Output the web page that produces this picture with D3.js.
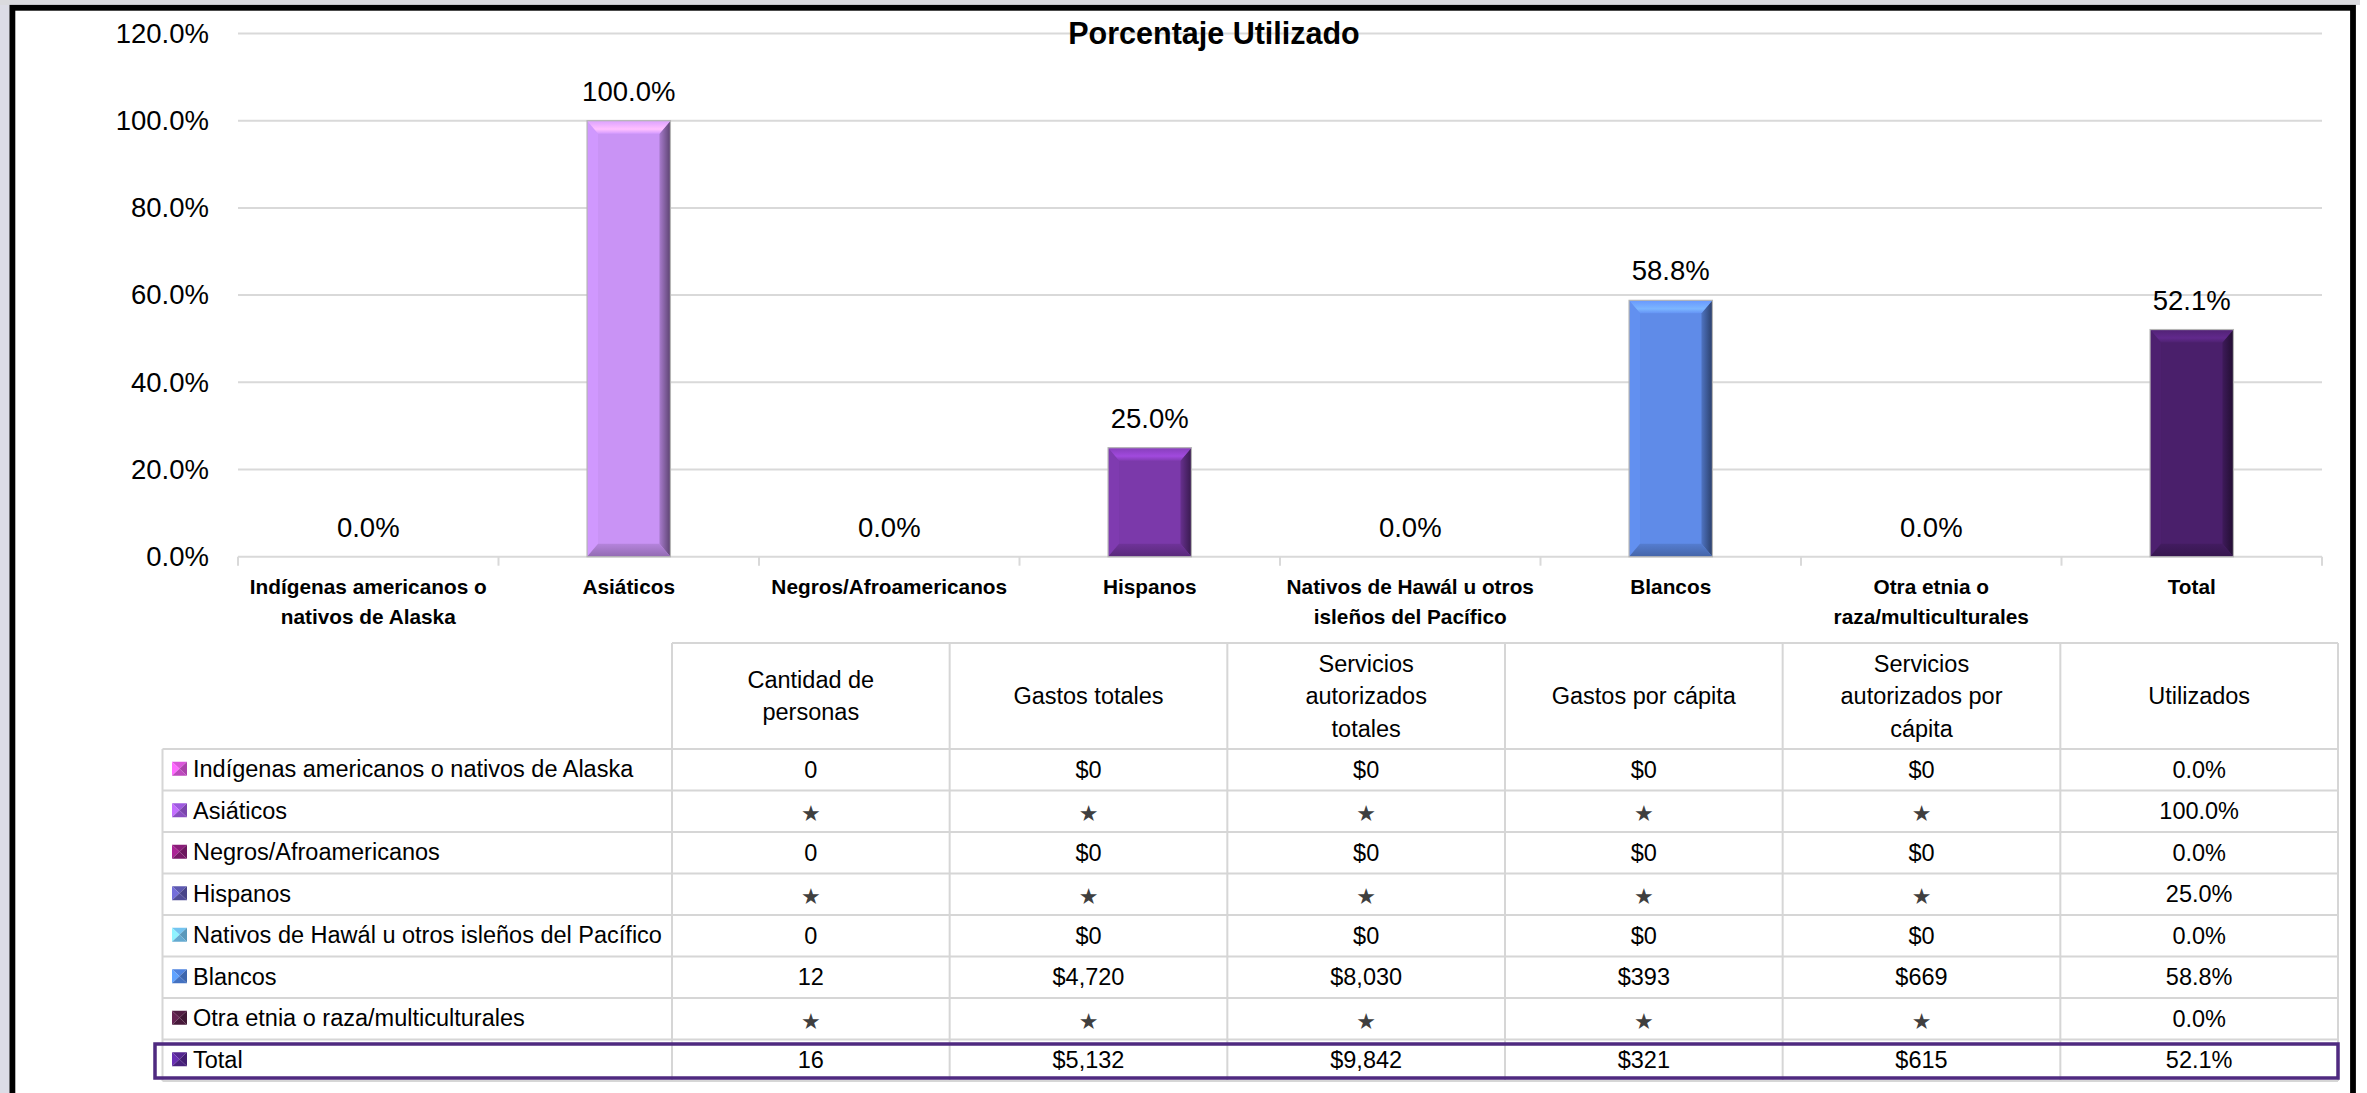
<!DOCTYPE html>
<html>
<head>
<meta charset="utf-8">
<script src="https://cdn.jsdelivr.net/npm/d3@7"></script>
<style>
  html, body { margin: 0; padding: 0; background: #ffffff; }
  svg { display: block; }
  text { font-family: "Liberation Sans", Arial, sans-serif; }
</style>
</head>
<body>
<svg id="chart" width="2367" height="1093"></svg>
<script>
// ---------------- DATA ----------------
const chartTitle = "Porcentaje Utilizado";
const categories = [
  ["Indígenas americanos o", "nativos de Alaska"],
  ["Asiáticos"],
  ["Negros/Afroamericanos"],
  ["Hispanos"],
  ["Nativos de Hawál u otros", "isleños del Pacífico"],
  ["Blancos"],
  ["Otra etnia o", "raza/multiculturales"],
  ["Total"]
];
const utilizedValues = [0, 100, 0, 25, 0, 58.8, 0, 52.1];
const barColors = ["#c050c0", "#c993f5", "#801870", "#7b39aa", "#62a8d2", "#5f8be8", "#4a1838", "#4a1f6b"];
const yTicks = [0, 20, 40, 60, 80, 100, 120];

const rowNames = [
  "Indígenas americanos o nativos de Alaska",
  "Asiáticos",
  "Negros/Afroamericanos",
  "Hispanos",
  "Nativos de Hawál u otros isleños del Pacífico",
  "Blancos",
  "Otra etnia o raza/multiculturales",
  "Total"
];
const legendColors = ["#c44cc4", "#8e50c8", "#7c1a6c", "#54509e", "#68b0d8", "#4676c8", "#4a1a3c", "#4c2282"];
const tableHeaders = [
  ["Cantidad de", "personas"],
  ["Gastos totales"],
  ["Servicios", "autorizados", "totales"],
  ["Gastos por cápita"],
  ["Servicios", "autorizados por", "cápita"],
  ["Utilizados"]
];
const cantidadPersonas   = ["0", "*", "0", "*", "0", "12", "*", "16"];
const gastosTotales      = ["$0", "*", "$0", "*", "$0", "$4,720", "*", "$5,132"];
const serviciosTotales   = ["$0", "*", "$0", "*", "$0", "$8,030", "*", "$9,842"];
const gastosPerCapita    = ["$0", "*", "$0", "*", "$0", "$393", "*", "$321"];
const serviciosPerCapita = ["$0", "*", "$0", "*", "$0", "$669", "*", "$615"];
const utilizados         = ["0.0%", "100.0%", "0.0%", "25.0%", "0.0%", "58.8%", "0.0%", "52.1%"];
const tableColumns = [cantidadPersonas, gastosTotales, serviciosTotales, gastosPerCapita, serviciosPerCapita, utilizados];

// ---------------- LAYOUT ----------------
const svg = d3.select("#chart");
const W = 2367, H = 1093;
const plot = { left: 238, right: 2322, top: 33.5, bottom: 556.7 };
const gridColor = "#d9d9d9";

// page background + frame
svg.append("rect").attr("x", 0).attr("y", 0).attr("width", W).attr("height", H).attr("fill", "#ffffff");
svg.append("rect").attr("x", 0).attr("y", 0).attr("width", 10).attr("height", H).attr("fill", "#dcdce6");
svg.append("rect").attr("x", 0).attr("y", 0).attr("width", 2360).attr("height", 5).attr("fill", "#dadade");
svg.append("rect")
  .attr("x", 12.4).attr("y", 7.8)
  .attr("width", 2353 - 12.4).attr("height", 1200)
  .attr("fill", "#ffffff").attr("stroke", "#000").attr("stroke-width", 5.8);

const defs = svg.append("defs");

// ---------------- SCALES ----------------
const catKeys = categories.map(c => c.join(" "));
const x = d3.scaleBand().domain(catKeys).range([plot.left, plot.right]).paddingInner(0).paddingOuter(0);
const y = d3.scaleLinear().domain([0, 120]).range([plot.bottom, plot.top]);

// gridlines
const gGrid = svg.append("g");
gGrid.selectAll("line").data(yTicks.filter(t => t > 0)).join("line")
  .attr("x1", plot.left).attr("x2", plot.right)
  .attr("y1", d => y(d)).attr("y2", d => y(d))
  .attr("stroke", gridColor).attr("stroke-width", 2);

// y axis labels
const yAxis = d3.axisLeft(y).tickValues(yTicks).tickSize(0).tickPadding(29)
  .tickFormat(d => d.toFixed(1) + "%");
const gy = svg.append("g").attr("transform", `translate(${plot.left},0)`).call(yAxis);
gy.select(".domain").remove();
gy.selectAll("text").attr("font-size", 27.5).attr("fill", "#000")
  .style("font-family", '"Liberation Sans", Arial, sans-serif');

// x axis line and ticks at band edges
const gx = svg.append("g");
gx.append("line").attr("x1", plot.left).attr("x2", plot.right)
  .attr("y1", plot.bottom).attr("y2", plot.bottom)
  .attr("stroke", gridColor).attr("stroke-width", 2);
const edges = catKeys.map(k => x(k)).concat([plot.right]);
gx.selectAll("line.tick").data(edges).join("line").attr("class", "tick")
  .attr("x1", d => d).attr("x2", d => d)
  .attr("y1", plot.bottom).attr("y2", plot.bottom + 9)
  .attr("stroke", gridColor).attr("stroke-width", 2);

// category labels
const gLab = svg.append("g");
categories.forEach((lines, i) => {
  const t = gLab.append("text")
    .attr("x", x(catKeys[i]) + x.bandwidth() / 2)
    .attr("y", 594)
    .attr("text-anchor", "middle")
    .attr("font-size", 20.8).attr("font-weight", "bold").attr("fill", "#000");
  lines.forEach((ln, j) => {
    t.append("tspan").attr("x", x(catKeys[i]) + x.bandwidth() / 2)
      .attr("dy", j === 0 ? 0 : 30).text(ln);
  });
});

// ---------------- BARS (bevelled) ----------------
const barW = x.bandwidth() * 0.32;
const gBars = svg.append("g");
utilizedValues.forEach((v, i) => {
  const bx0 = x(catKeys[i]) + (x.bandwidth() - barW) / 2;
  const top = y(v), h = plot.bottom - top;
  if (h <= 0.5) return;
  const c = barColors[i];
  const bx = Math.min(11, barW / 2), by = Math.min(13, h / 2);
  const X0 = bx0, X1 = bx0 + barW, Y0 = top, Y1 = plot.bottom;
  const g = gBars.append("g");
  const gidT = "gT" + i, gidR = "gR" + i, gidB = "gB" + i;
  const lt = defs.append("linearGradient").attr("id", gidT).attr("x1", 0).attr("y1", 0).attr("x2", 0).attr("y2", 1);
  lt.append("stop").attr("offset", "0%").attr("stop-color", d3.color(c).brighter(0.25));
  lt.append("stop").attr("offset", "65%").attr("stop-color", d3.color(c).brighter(0.75));
  lt.append("stop").attr("offset", "100%").attr("stop-color", d3.color(c).brighter(0.15));
  const lr = defs.append("linearGradient").attr("id", gidR).attr("x1", 0).attr("y1", 0).attr("x2", 1).attr("y2", 0);
  lr.append("stop").attr("offset", "0%").attr("stop-color", d3.color(c).darker(0.5));
  lr.append("stop").attr("offset", "100%").attr("stop-color", d3.color(c).darker(2.2));
  const lb = defs.append("linearGradient").attr("id", gidB).attr("x1", 0).attr("y1", 0).attr("x2", 0).attr("y2", 1);
  lb.append("stop").attr("offset", "0%").attr("stop-color", d3.color(c).darker(0.3));
  lb.append("stop").attr("offset", "100%").attr("stop-color", d3.color(c).darker(0.9));

  g.append("rect").attr("x", X0).attr("y", Y0).attr("width", barW).attr("height", h).attr("fill", c);
  const poly = pts => pts.map(p => p.join(",")).join(" ");
  g.append("polygon").attr("points", poly([[X0, Y0], [X0 + bx, Y0 + by], [X0 + bx, Y1 - by], [X0, Y1]]))
    .attr("fill", d3.color(c).brighter(0.1));
  g.append("polygon").attr("points", poly([[X1, Y0], [X1 - bx, Y0 + by], [X1 - bx, Y1 - by], [X1, Y1]]))
    .attr("fill", `url(#${gidR})`);
  g.append("polygon").attr("points", poly([[X0, Y0], [X1, Y0], [X1 - bx, Y0 + by], [X0 + bx, Y0 + by]]))
    .attr("fill", `url(#${gidT})`);
  g.append("polygon").attr("points", poly([[X0, Y1], [X1, Y1], [X1 - bx, Y1 - by], [X0 + bx, Y1 - by]]))
    .attr("fill", `url(#${gidB})`);
  g.append("rect").attr("x", X0).attr("y", Y0).attr("width", barW).attr("height", h)
    .attr("fill", "none").attr("stroke", "#b5b5b5").attr("stroke-width", 1.2);
});

// data labels
svg.append("g").selectAll("text").data(utilizedValues).join("text")
  .attr("x", (d, i) => x(catKeys[i]) + x.bandwidth() / 2)
  .attr("y", d => y(d) - 20)
  .attr("text-anchor", "middle").attr("font-size", 27.5).attr("fill", "#000")
  .text(d => d.toFixed(1) + "%");

// title
svg.append("text").attr("x", 1214).attr("y", 44).attr("text-anchor", "middle")
  .attr("font-size", 30.5).attr("font-weight", "bold").attr("fill", "#000")
  .text(chartTitle);

// ---------------- TABLE ----------------
const tbl = { legendLeft: 162.5, colLeft: 672, colRight: 2338, headTop: 643, headBottom: 749, bottom: 1081 };
const colX = d3.scaleBand().domain(d3.range(tableHeaders.length)).range([tbl.colLeft, tbl.colRight]);
const rowY = d3.scaleBand().domain(rowNames).range([tbl.headBottom, tbl.bottom]);
const gT = svg.append("g");
const lineColor = "#d6d6d6";

gT.append("line").attr("x1", tbl.colLeft).attr("x2", tbl.colRight)
  .attr("y1", tbl.headTop).attr("y2", tbl.headTop).attr("stroke", lineColor).attr("stroke-width", 2);
const hLines = rowNames.map(r => rowY(r)).concat([tbl.bottom]);
gT.selectAll("line.h").data(hLines).join("line").attr("class", "h")
  .attr("x1", tbl.legendLeft).attr("x2", tbl.colRight)
  .attr("y1", d => d).attr("y2", d => d)
  .attr("stroke", lineColor).attr("stroke-width", 2);
const vLines = d3.range(tableHeaders.length).map(i => colX(i)).concat([tbl.colRight]);
gT.selectAll("line.v").data(vLines).join("line").attr("class", "v")
  .attr("x1", d => d).attr("x2", d => d)
  .attr("y1", tbl.headTop).attr("y2", tbl.bottom)
  .attr("stroke", lineColor).attr("stroke-width", 2);
gT.append("line").attr("x1", tbl.legendLeft).attr("x2", tbl.legendLeft)
  .attr("y1", tbl.headBottom).attr("y2", tbl.bottom).attr("stroke", lineColor).attr("stroke-width", 2);

// headers
tableHeaders.forEach((lines, i) => {
  const cx = colX(i) + colX.bandwidth() / 2;
  const cy = (tbl.headTop + tbl.headBottom) / 2;
  const lh = 32.5;
  const t = gT.append("text").attr("text-anchor", "middle").attr("font-size", 23.5).attr("fill", "#000");
  lines.forEach((ln, j) => {
    t.append("tspan").attr("x", cx)
      .attr("y", cy + (j - (lines.length - 1) / 2) * lh + 8).text(ln);
  });
});

// rows
rowNames.forEach((name, r) => {
  const top = rowY(name), rh = rowY.bandwidth();
  const cy = top + rh / 2;
  const ix = 172, iy = cy - 8, iw = 15, ih = 14;
  const lc = d3.color(legendColors[r]);
  const poly = pts => pts.map(p => p.join(",")).join(" ");
  const mx = ix + iw / 2, my = iy + ih / 2;
  gT.append("polygon").attr("points", poly([[ix, iy], [ix + iw, iy], [mx, my]])).attr("fill", lc.brighter(0.3));
  gT.append("polygon").attr("points", poly([[ix, iy], [ix, iy + ih], [mx, my]])).attr("fill", lc.brighter(0.9));
  gT.append("polygon").attr("points", poly([[ix + iw, iy], [ix + iw, iy + ih], [mx, my]])).attr("fill", lc.darker(0.4));
  gT.append("polygon").attr("points", poly([[ix, iy + ih], [ix + iw, iy + ih], [mx, my]])).attr("fill", lc.darker(0.1));
  gT.append("text").attr("x", 193).attr("y", cy + 7.5).attr("font-size", 23.5).attr("fill", "#000").text(name);

  tableColumns.forEach((col, c) => {
    const v = col[r];
    const cx = colX(c) + colX.bandwidth() / 2;
    if (v === "*") {
      gT.append("text").attr("x", cx).attr("y", cy + 10).attr("text-anchor", "middle")
        .attr("font-size", 22).attr("fill", "#3f3f3f")
        .style("font-family", '"DejaVu Sans", sans-serif').text("★");
    } else {
      gT.append("text").attr("x", cx).attr("y", cy + 8).attr("text-anchor", "middle")
        .attr("font-size", 23.5).attr("fill", "#000").text(v);
    }
  });
});

// Total row highlight box
const totTop = rowY("Total");
gT.append("rect").attr("x", 155).attr("y", totTop + 4.5)
  .attr("width", tbl.colRight - 155).attr("height", tbl.bottom - totTop - 7.5)
  .attr("fill", "none").attr("stroke", "#4f2a80").attr("stroke-width", 3.5);
</script>
</body>
</html>
